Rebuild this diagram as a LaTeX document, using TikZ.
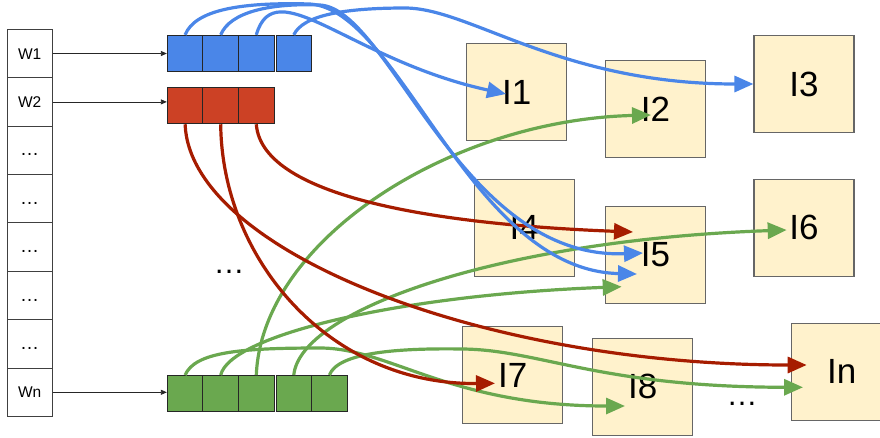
\documentclass[tikz,border=0pt]{standalone}
\usepackage{fontspec}
\setmainfont{Liberation Sans}
\usetikzlibrary{arrows.meta,calc}
\definecolor{cblue}{HTML}{4A86E8}
\definecolor{cred}{HTML}{CC4125}
\definecolor{cdred}{HTML}{A61C00}
\definecolor{cgreen}{HTML}{6AA84F}
\definecolor{cpale}{HTML}{FFF2CC}
\begin{document}
\begin{tikzpicture}[x=1pt,y=-1pt,
  wcell/.style={draw=black!75, line width=1pt, fill=white, minimum width=44.7pt,
    minimum height=48.4pt, inner sep=0pt, text height=11pt, text depth=0pt,
    font=\fontsize{15.5}{18}\selectfont},
  dotcell/.style={wcell, font=\fontsize{19}{20}\selectfont},
  slot/.style={draw=black!85, line width=0.9pt, minimum width=35.6pt,
    minimum height=36pt, inner sep=0pt},
  item/.style={draw=black!60, line width=1.1pt, fill=cpale, minimum width=100pt,
    minimum height=97pt, inner sep=0pt, font=\fontsize{35}{40}\selectfont},
  feed/.style={-{Triangle[length=6pt,width=5pt]}, line width=0.8pt, black!85},
  link/.style={line width=3.2pt, -{Triangle[length=19pt,width=16pt]}},
  ellip/.style={anchor=base, inner sep=0pt, font=\fontsize{31}{32}\selectfont}
]
\useasboundingbox (0,0) rectangle (880,437);
\clip (0,0) rectangle (880,437);

% word column
\node[wcell] (w1) at (29.7,53.5) {W1};
\node[wcell] (w2) at (29.7,101.9) {W2};
\node[dotcell] (w3) at (29.7,150.3) {…};
\node[dotcell] (w4) at (29.7,198.7) {…};
\node[dotcell] (w5) at (29.7,247.1) {…};
\node[dotcell] (w6) at (29.7,295.5) {…};
\node[dotcell] (w7) at (29.7,343.9) {…};
\node[wcell] (wn) at (29.7,392.3) {Wn};

% slot rows
\node[slot, fill=cblue] (b1) at (185.1,53.3) {};
\node[slot, fill=cblue] (b2) at (220.7,53.3) {};
\node[slot, fill=cblue] (b3) at (256.3,53.3) {};
\node[slot, fill=cblue] (b4) at (293.8,53.3) {};

\node[slot, fill=cred] (r1) at (185.1,105.8) {};
\node[slot, fill=cred] (r2) at (220.7,105.8) {};
\node[slot, fill=cred] (r3) at (256.3,105.8) {};

\node[slot, fill=cgreen] (g1) at (185.1,393.5) {};
\node[slot, fill=cgreen] (g2) at (220.7,393.5) {};
\node[slot, fill=cgreen] (g3) at (256.3,393.5) {};
\node[slot, fill=cgreen] (g4) at (293.8,393.5) {};
\node[slot, fill=cgreen] (g5) at (329.4,393.5) {};

\draw[feed] (w1.east) -- (w1.east -| b1.west);
\draw[feed] (w2.east) -- (w2.east -| r1.west);
\draw[feed] (wn.east) -- (wn.east -| g1.west);

\node[ellip] (mdots) at (229,273) {…};
\node[ellip] (bdots) at (742,405.5) {…};

% items
\node[item] (I1) at (516.7,92.3) {I1};
\node[item] (I2) at (655.5,109) {I2};
\node[item] (I3) at (804,84) {I3};
\node[item] (I4) at (524.3,227.6) {I4};
\node[item] (I5) at (655.5,255) {I5};
\node[item] (I6) at (804,227.6) {I6};
\node[item] (I7) at (512.8,375) {I7};
\node[item] (I8) at (642.7,386.7) {I8};
\node[item] (In) at (841.7,371.7) {In};

% arrow targets
\coordinate (tI1b) at ($(I1.center)+(-10.7,1.7)$);
\coordinate (tI5bu) at ($(I5.center)+(-12.5,-2)$);
\coordinate (tI5bl) at ($(I5.center)+(-18.5,19)$);
\coordinate (tI5r) at ($(I5.center)+(-22.5,-23)$);
\coordinate (tI5g) at ($(I5.center)+(-33.8,31.7)$);
\coordinate (tI2g) at ($(I2.center)+(-4.5,6)$);
\coordinate (tI6g) at ($(I6.center)+(-17.3,2.4)$);
\coordinate (tI7r) at ($(I7.center)+(-17.8,8.3)$);
\coordinate (tI8g) at ($(I8.center)+(-17.7,19.3)$);
\coordinate (tInr) at ($(In.center)+(-35,-6.7)$);
\coordinate (tIng) at ($(In.center)+(-38.7,15.6)$);

% green links
\draw[link,cgreen] (g3.north) .. controls (262,240) and (450,120) .. (tI2g);
\draw[link,cgreen] (g1.north) .. controls (195,352) and (240,348) .. (320,348)
  .. controls (390,348) and (450,406) .. (tI8g);
\draw[link,cgreen] (g2.north) .. controls (230,335) and (400,295) .. (tI5g);
\draw[link,cgreen] (g4.north) .. controls (300,310) and (500,240) .. (tI6g);
\draw[link,cgreen] (g5.north) .. controls (338,352) and (400,348) .. (463,349)
  .. controls (540,350) and (600,387) .. (tIng);

% red links
\draw[link,cdred] (r1.south) .. controls (190,250) and (480,365) .. (tInr);
\draw[link,cdred] (r2.south) .. controls (222,260) and (330,385) .. (tI7r);
\draw[link,cdred] (r3.south) .. controls (262,200) and (450,225) .. (tI5r);

% blue links
\draw[link,cblue] (b4.north) .. controls (303,15) and (345,8) .. (405,8)
  .. controls (470,8) and (560,84) .. (I3.west);
\draw[link,cblue] (b3.north) .. controls (275,-30) and (350,60) .. (tI1b);
\draw[link,cblue] (b2.north) .. controls (230,12) and (270,3) .. (320,5)
  .. controls (390,9.2) and (460,260) .. (tI5bu);
\draw[link,cblue] (b1.north) .. controls (195,10) and (240,2) .. (310,4)
  .. controls (400,10) and (470,270) .. (tI5bl);
\end{tikzpicture}
\end{document}
